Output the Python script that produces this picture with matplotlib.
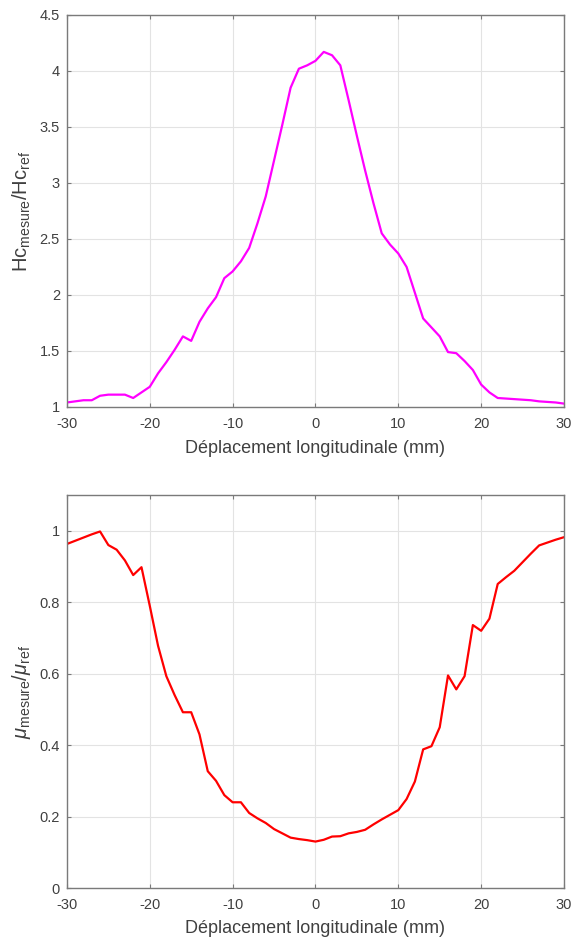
import matplotlib
matplotlib.use("Agg")
import matplotlib.pyplot as plt
import numpy as np

plt.rcParams['font.family'] = ['Liberation Sans', 'DejaVu Sans']
plt.rcParams['mathtext.fontset'] = 'custom'
plt.rcParams['mathtext.rm'] = 'Liberation Sans'
plt.rcParams['mathtext.it'] = 'Liberation Sans:italic'
plt.rcParams['axes.unicode_minus'] = False

x_mm = list(range(-30, 31))
hc_ratio = [1.04, 1.05, 1.06, 1.06, 1.10, 1.11, 1.11, 1.11, 1.08, 1.13,
            1.18, 1.30, 1.40, 1.51, 1.63, 1.59, 1.76, 1.88, 1.98, 2.15,
            2.21, 2.30, 2.42, 2.64, 2.88, 3.20, 3.52, 3.85, 4.02, 4.05,
            4.09, 4.17, 4.14, 4.05, 3.74, 3.42, 3.11, 2.82, 2.55, 2.45,
            2.37, 2.25, 2.02, 1.79, 1.71, 1.63, 1.49, 1.48, 1.41, 1.33,
            1.20, 1.13, 1.08, 1.075, 1.07, 1.065, 1.06, 1.05, 1.045, 1.04,
            1.03]
mu_ratio = [0.963, 0.972, 0.981, 0.990, 0.998, 0.960, 0.947, 0.917, 0.876, 0.898,
            0.790, 0.678, 0.593, 0.540, 0.492, 0.492, 0.430, 0.327, 0.300, 0.260,
            0.240, 0.240, 0.210, 0.195, 0.182, 0.165, 0.153, 0.141, 0.137, 0.134,
            0.130, 0.135, 0.144, 0.145, 0.153, 0.157, 0.163, 0.178, 0.192, 0.205,
            0.218, 0.249, 0.298, 0.388, 0.397, 0.450, 0.595, 0.556, 0.593, 0.736,
            0.720, 0.754, 0.851, 0.870, 0.888, 0.912, 0.936, 0.959, 0.967, 0.975,
            0.982]

xticks = [-30, -20, -10, 0, 10, 20, 30]
hc_yticks = [1, 1.5, 2, 2.5, 3, 3.5, 4, 4.5]
hc_yticklabels = ['1', '1.5', '2', '2.5', '3', '3.5', '4', '4.5']
mu_yticks = [0, 0.2, 0.4, 0.6, 0.8, 1]
mu_yticklabels = ['0', '0.2', '0.4', '0.6', '0.8', '1']
xlabel = 'Déplacement longitudinale (mm)'
hc_ylabel = r'Hc$_{\mathrm{mesure}}$/Hc$_{\mathrm{ref}}$'
mu_ylabel = r'$\mu_{\mathrm{mesure}}/\mu_{\mathrm{ref}}$'

fig = plt.figure(figsize=(5.72, 9.39), dpi=100)
ax1 = fig.add_axes([0.117, 0.5666, 0.869, 0.4175])
ax2 = fig.add_axes([0.117, 0.0543, 0.869, 0.4185])

spine_c = '#7a7a7a'
text_c = '#404040'

def style(ax):
    for s in ax.spines.values():
        s.set_color(spine_c)
        s.set_linewidth(1.0)
    ax.tick_params(direction='in', top=True, right=True, length=3,
                   color=spine_c, labelcolor=text_c, labelsize=10.5, width=0.8)
    ax.tick_params(axis='x', pad=7)
    ax.tick_params(axis='y', pad=5)
    ax.grid(True, color='#e3e3e3', linewidth=0.8)
    ax.set_axisbelow(True)

ax1.plot(x_mm, hc_ratio, color='#ff00ff', lw=1.6)
ax1.set_xlim(-30, 30)
ax1.set_ylim(1, 4.5)
ax1.set_xticks(xticks)
ax1.set_yticks(hc_yticks)
ax1.set_yticklabels(hc_yticklabels)
ax1.set_xlabel(xlabel, fontsize=13, color=text_c, labelpad=7)
ax1.set_ylabel(hc_ylabel, fontsize=14.5, color=text_c, labelpad=5)
style(ax1)

ax2.plot(x_mm, mu_ratio, color='#ff0000', lw=1.6)
ax2.set_xlim(-30, 30)
ax2.set_ylim(0, 1.1)
ax2.set_xticks(xticks)
ax2.set_yticks(mu_yticks)
ax2.set_yticklabels(mu_yticklabels)
ax2.set_xlabel(xlabel, fontsize=13, color=text_c, labelpad=6)
ax2.set_ylabel(mu_ylabel, fontsize=14.5, color=text_c, labelpad=5)
style(ax2)

fig.savefig('out.png', dpi=100)
